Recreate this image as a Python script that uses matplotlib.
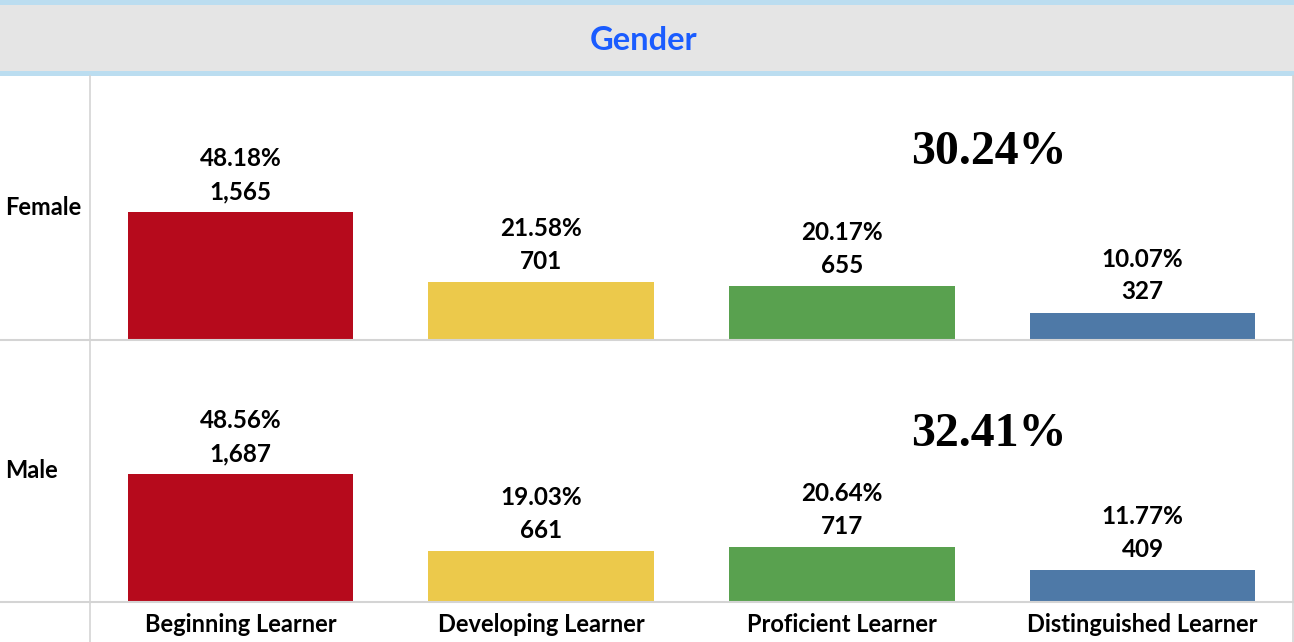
import matplotlib.pyplot as plt
from matplotlib.patches import Rectangle
from matplotlib.lines import Line2D

# data
categories = ['Beginning Learner', 'Developing Learner', 'Proficient Learner', 'Distinguished Learner']
genders = ['Female', 'Male']
pct = {'Female': [48.18, 21.58, 20.17, 10.07],
       'Male': [48.56, 19.03, 20.64, 11.77]}
counts = {'Female': [1565, 701, 655, 327],
          'Male': [1687, 661, 717, 409]}
colors = ['#B60A1C', '#ECC94B', '#59A14F', '#4E79A7']

plt.rcParams['font.family'] = ['Lato', 'DejaVu Sans']
W, H = 1294, 642
fig = plt.figure(figsize=(W / 100, H / 100), dpi=100)
grid_c = '#d4d4d4'

# header band
fig.patches.append(Rectangle((0, 1 - 76 / H), 1, 76 / H, transform=fig.transFigure,
                             facecolor='#BBDDF0', edgecolor='none', zorder=0))
fig.patches.append(Rectangle((0, 1 - 71 / H), 1, 66 / H, transform=fig.transFigure,
                             facecolor='#E5E5E5', edgecolor='none', zorder=1))
fig.text(0.497, 1 - 40 / H, 'Gender', color='#1A5CFF', fontsize=23.5, fontweight='bold',
         ha='center', va='center')

# panel rows (pixel top, bottom)
rows = [(76, 339), (340, 601)]
big_y = [0.71, 0.64]
left, right = 90, 1293

for k, g in enumerate(genders):
    top, bot = rows[k]
    ax = fig.add_axes([left / W, 1 - bot / H, (right - left) / W, (bot - top) / H])
    x = range(len(categories))
    ax.bar(x, pct[g], width=0.75, color=colors)
    ax.set_xlim(-0.5, 3.5)
    ax.set_ylim(0, 100)
    for i, (p, c) in enumerate(zip(pct[g], counts[g])):
        ax.annotate(f'{c:,}', (i, p), xytext=(0, 15), textcoords='offset points',
                    ha='center', va='center', fontsize=17.5, fontweight='bold')
        ax.annotate(f'{p:.2f}%', (i, p), xytext=(0, 38.5), textcoords='offset points',
                    ha='center', va='center', fontsize=17.5, fontweight='bold')
    total = pct[g][2] + pct[g][3]
    ax.text(2.49, big_y[k], f'{total:.2f}%', transform=ax.get_xaxis_transform(),
            ha='center', va='center', fontsize=34.5, fontweight='bold',
            family='Liberation Serif')
    ax.set_xticks([])
    ax.set_yticks([])
    for s in ['top', 'left', 'bottom']:
        ax.spines[s].set_visible(False)
    ax.spines['right'].set_color(grid_c)
    fig.text(5 / W, 1 - (top + bot) / 2 / H, g, fontsize=17,
             fontweight='bold', ha='left', va='center')

# grid lines
for yp in [339.5, 601.5]:
    fig.add_artist(Line2D([0, 1], [1 - yp / H] * 2, color=grid_c, lw=1.5))
fig.add_artist(Line2D([left / W] * 2, [0, 1 - 76 / H], color=grid_c, lw=1.2))
fig.add_artist(Line2D([right / W] * 2, [0, 1 - 76 / H], color=grid_c, lw=1.2))

# category labels
for i, c in enumerate(categories):
    xc = (left + (i + 0.5) * (right - left) / 4) / W
    fig.text(xc, 1 - 624 / H, c, fontsize=17, fontweight='bold', ha='center', va='center')

fig.savefig('out.png', dpi=100)
